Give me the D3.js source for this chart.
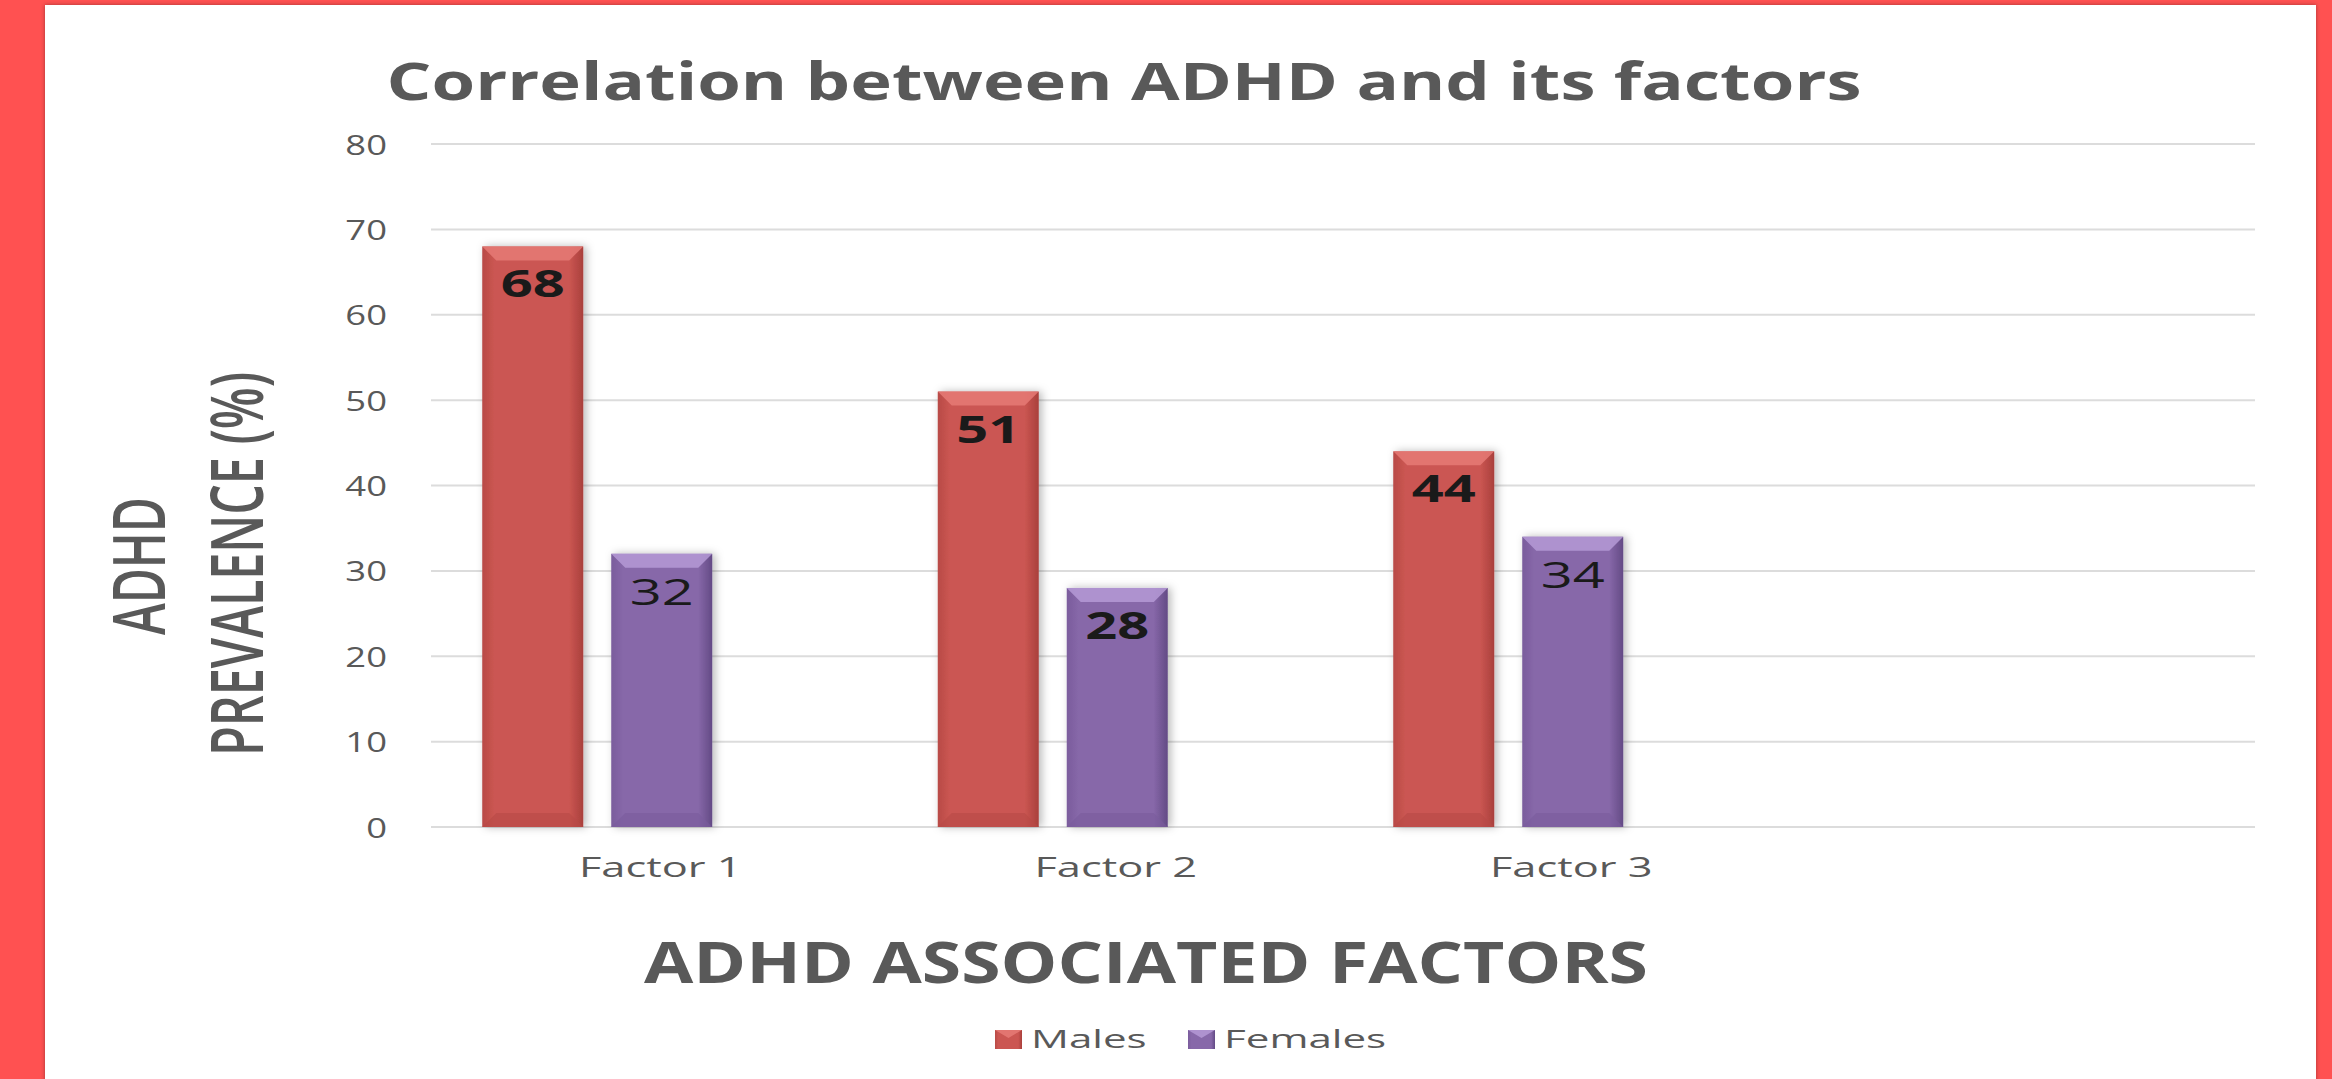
<!DOCTYPE html>
<html>
<head>
<meta charset="utf-8">
<script src="https://cdn.jsdelivr.net/npm/d3@7"></script>
<style>
  html, body { margin: 0; padding: 0; background: #ff5151; }
  svg { display: block; }
  text { font-family: "Open Sans", sans-serif; fill: #595959; }
</style>
</head>
<body>
<div id="chart"></div>
<script>
// chart data
var categories = ["Factor 1", "Factor 2", "Factor 3"];
var seriesNames = ["Males", "Females"];
var males = [68, 51, 44];
var females = [32, 28, 34];
var yTicks = [0, 10, 20, 30, 40, 50, 60, 70, 80];

// label weight per bar (as drawn in the original)
var maleBold = [true, true, true];
var femaleBold = [false, true, false];

var svgWidth = 2332;
var svgHeight = 1079;

var colors = {
  Males:   { main: "#cb5652", edge: "#a9403c", light: "#e67a75", dark: "#b84a46" },
  Females: { main: "#8768a9", edge: "#634a85", light: "#b59ad6", dark: "#7a5c9c" }
};

var svg = d3.select("#chart")
  .append("svg")
  .attr("width", svgWidth)
  .attr("height", svgHeight);

var defs = svg.append("defs");

var shadow = defs.append("filter").attr("id", "shadow")
  .attr("x", "-20%").attr("y", "-20%").attr("width", "140%").attr("height", "140%");
shadow.append("feDropShadow")
  .attr("dx", 3).attr("dy", 0).attr("stdDeviation", 4)
  .attr("flood-color", "#000").attr("flood-opacity", 0.28);

var panelShadow = defs.append("filter").attr("id", "panelShadow")
  .attr("x", "-5%").attr("y", "-5%").attr("width", "110%").attr("height", "110%");
panelShadow.append("feDropShadow")
  .attr("dx", 0).attr("dy", 0).attr("stdDeviation", 2)
  .attr("flood-color", "#000").attr("flood-opacity", 0.35);

seriesNames.forEach(function(s) {
  var g = defs.append("linearGradient").attr("id", "grad-" + s)
    .attr("x1", "0%").attr("x2", "100%").attr("y1", "0%").attr("y2", "0%");
  g.append("stop").attr("offset", "0%").attr("stop-color", colors[s].dark);
  g.append("stop").attr("offset", "12%").attr("stop-color", colors[s].main);
  g.append("stop").attr("offset", "86%").attr("stop-color", colors[s].main);
  g.append("stop").attr("offset", "100%").attr("stop-color", colors[s].edge);
});

// white chart panel inside the red frame
svg.append("rect")
  .attr("x", 45).attr("y", 5)
  .attr("width", 2316 - 45).attr("height", svgHeight)
  .attr("fill", "#fff")
  .attr("filter", "url(#panelShadow)");

// scales
var plotLeft = 431, plotRight = 2255;
var yScale = d3.scaleLinear().domain([0, 80]).range([827, 144]);

var x0 = d3.scaleBand()
  .domain(categories)
  .range([369.5, 369.5 + 3 * 455.5]);

var x1 = d3.scaleBand()
  .domain(seriesNames)
  .range([0, x0.bandwidth()])
  .paddingInner(0.217)
  .paddingOuter(0.874);

// gridlines
svg.append("g")
  .selectAll("line")
  .data(yTicks)
  .enter()
  .append("line")
  .attr("x1", plotLeft).attr("x2", plotRight)
  .attr("y1", d => yScale(d)).attr("y2", d => yScale(d))
  .attr("stroke", "#dcdcdc")
  .attr("stroke-width", 2);

// y axis labels
var leftAxis = d3.axisLeft(yScale).tickValues(yTicks).tickSize(0).tickPadding(44);
var yAxisG = svg.append("g")
  .attr("transform", `translate(${plotLeft}, 0)`)
  .call(leftAxis);
yAxisG.select(".domain").remove();
yAxisG.selectAll("text")
  .style("font-family", "Open Sans")
  .style("font-size", "28px")
  .attr("fill", "#595959")
  .attr("dy", "0.36em");

// x axis labels (shifted right of the bar groups as in the original)
var bottomAxis = d3.axisBottom(x0).tickSize(0).tickPadding(0);
var xAxisG = svg.append("g")
  .attr("transform", "translate(0, 0)")
  .call(bottomAxis);
xAxisG.select(".domain").remove();
xAxisG.selectAll("text")
  .style("font-family", "Open Sans")
  .style("font-size", "28px")
  .attr("fill", "#595959")
  .attr("x", 63)
  .attr("y", 877)
  .attr("dy", 0);

// bar data
var barData = [];
categories.forEach(function(c, i) {
  barData.push({ cat: c, series: "Males", value: males[i], bold: maleBold[i] });
  barData.push({ cat: c, series: "Females", value: females[i], bold: femaleBold[i] });
});

var bev = 14;
var barsGroup = svg.append("g");
var bars = barsGroup.selectAll("g.bar").data(barData).enter()
  .append("g").attr("class", "bar");

bars.append("rect")
  .attr("x", d => x0(d.cat) + x1(d.series))
  .attr("y", d => yScale(d.value))
  .attr("width", x1.bandwidth())
  .attr("height", d => yScale(0) - yScale(d.value))
  .attr("fill", d => "url(#grad-" + d.series + ")")
  .attr("filter", "url(#shadow)");

// top bevel
bars.append("path")
  .attr("d", function(d) {
    var xl = x0(d.cat) + x1(d.series), xr = xl + x1.bandwidth(), yt = yScale(d.value);
    return `M${xl},${yt} L${xr},${yt} L${xr - bev},${yt + bev} L${xl + bev},${yt + bev} Z`;
  })
  .attr("fill", d => colors[d.series].light)
  .attr("opacity", 0.85);

// bottom bevel
bars.append("path")
  .attr("d", function(d) {
    var xl = x0(d.cat) + x1(d.series), xr = xl + x1.bandwidth(), yb = yScale(0);
    return `M${xl},${yb} L${xr},${yb} L${xr - bev},${yb - bev} L${xl + bev},${yb - bev} Z`;
  })
  .attr("fill", d => colors[d.series].dark)
  .attr("opacity", 0.6);

// data labels
bars.append("text")
  .text(d => d.value)
  .attr("x", d => x0(d.cat) + x1(d.series) + x1.bandwidth() / 2)
  .attr("y", d => yScale(d.value) + 51)
  .attr("text-anchor", "middle")
  .style("font-size", "37px")
  .style("font-weight", d => d.bold ? "700" : "400")
  .style("fill", "#1a1a1a")
  .attr("textLength", 64)
  .attr("lengthAdjust", "spacingAndGlyphs");

// chart title
svg.append("text")
  .attr("x", 1124).attr("y", 100)
  .attr("text-anchor", "middle")
  .style("font-size", "52px")
  .style("font-weight", "700")
  .attr("textLength", 1475)
  .attr("lengthAdjust", "spacingAndGlyphs")
  .text("Correlation between ADHD and its factors");

// x axis title
svg.append("text")
  .attr("x", 1146).attr("y", 983)
  .attr("text-anchor", "middle")
  .style("font-size", "57px")
  .style("font-weight", "700")
  .attr("textLength", 1004)
  .attr("lengthAdjust", "spacingAndGlyphs")
  .text("ADHD ASSOCIATED FACTORS");

// y axis title, two lines
svg.append("text")
  .attr("transform", "translate(165, 566) rotate(-90)")
  .attr("text-anchor", "middle")
  .style("font-size", "72px")
  .style("font-weight", "600")
  .attr("textLength", 138)
  .attr("lengthAdjust", "spacingAndGlyphs")
  .text("ADHD");

svg.append("text")
  .attr("transform", "translate(263, 564) rotate(-90)")
  .attr("text-anchor", "middle")
  .style("font-size", "72px")
  .style("font-weight", "600")
  .attr("textLength", 384)
  .attr("lengthAdjust", "spacingAndGlyphs")
  .text("PREVALENCE (%)");

// stretch tick labels to the original's wide lettering
function widen(sel, k) {
  sel.each(function() {
    var w = this.getComputedTextLength();
    d3.select(this).attr("textLength", w * k).attr("lengthAdjust", "spacingAndGlyphs");
  });
}
widen(yAxisG.selectAll("text"), 1.3);
widen(xAxisG.selectAll("text"), 1.55);

// legend
var legendX = [995, 1188];
var legend = svg.append("g").selectAll("g").data(seriesNames).enter().append("g")
  .attr("transform", (d, i) => `translate(${legendX[i]}, 1030)`);

legend.append("rect")
  .attr("width", 27).attr("height", 19)
  .attr("fill", d => "url(#grad-" + d + ")");
legend.append("path")
  .attr("d", "M0,0 L27,0 L13.5,8 Z")
  .attr("fill", d => colors[d].light)
  .attr("opacity", 0.85);

var legendText = legend.append("text")
  .attr("x", 36).attr("y", 18)
  .style("font-size", "26px")
  .text(d => d);
widen(legendText, 1.62);
</script>
</body>
</html>
